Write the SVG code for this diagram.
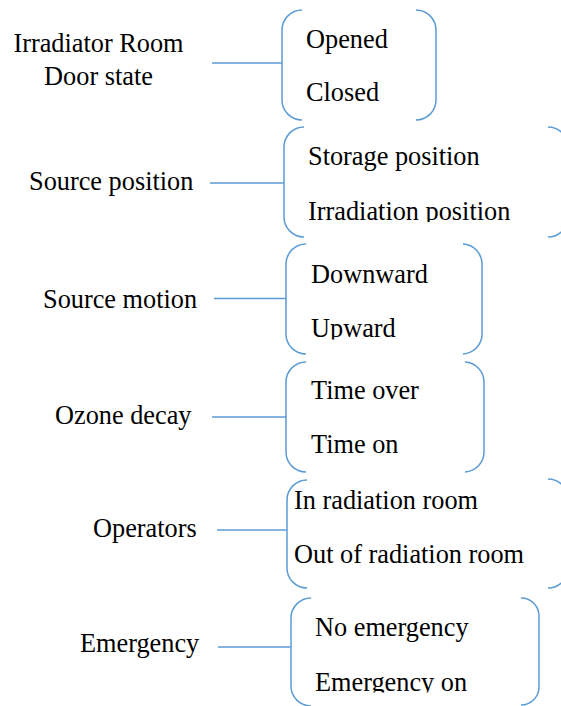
<svg xmlns="http://www.w3.org/2000/svg" width="561" height="706" viewBox="0 0 561 706">
<style>
text{font-family:"Liberation Serif","Times New Roman",serif;font-size:26.3px;fill:#000}
.br{fill:none;stroke:#5B9BD5;stroke-width:1.5}
.cn{fill:none;stroke:#5B9BD5;stroke-width:1.3}
</style>
<defs>
<clipPath id="c2"><rect x="280" y="120" width="281" height="102"/></clipPath>
<clipPath id="c3"><rect x="280" y="240" width="281" height="99.5"/></clipPath>
<clipPath id="c6"><rect x="280" y="595" width="281" height="97.5"/></clipPath>
</defs>
<rect width="561" height="706" fill="#fff"/>
<g id="connectors">
<line class="cn" x1="212" y1="63" x2="282" y2="63"/>
<line class="cn" x1="210" y1="183" x2="284" y2="183"/>
<line class="cn" x1="214" y1="298.5" x2="286" y2="298.5"/>
<line class="cn" x1="212" y1="417" x2="286" y2="417"/>
<line class="cn" x1="217" y1="530" x2="287" y2="530"/>
<line class="cn" x1="218" y1="647" x2="291" y2="647"/>
</g>
<g id="label-door">
<text x="98.5" y="52" text-anchor="middle">Irradiator Room</text>
<text x="98.5" y="85" text-anchor="middle">Door state</text>
</g>
<g id="label-source-position"><text x="29" y="190">Source position</text></g>
<g id="label-source-motion"><text x="43" y="308">Source motion</text></g>
<g id="label-ozone"><text x="55" y="424">Ozone decay</text></g>
<g id="label-operators"><text x="93" y="537">Operators</text></g>
<g id="label-emergency"><text x="80" y="652">Emergency</text></g>
<g id="box-door">
<path class="br" d="M302,10 A20,20 0 0 0 282,30 L282,100 A20,20 0 0 0 302,120"/>
<path class="br" d="M416,10 A20,20 0 0 1 436,30 L436,100 A20,20 0 0 1 416,120"/>
<text x="306" y="48">Opened</text>
<text x="306" y="101">Closed</text>
</g>
<g id="box-source-position">
<path class="br" d="M304,127 A20,20 0 0 0 284,147 L284,217 A20,20 0 0 0 304,237"/>
<path class="br" d="M548,127 A20,20 0 0 1 568,147 L568,217 A20,20 0 0 1 548,237"/>
<g clip-path="url(#c2)">
<text x="308" y="165">Storage position</text>
<text x="308" y="220">Irradiation position</text>
</g>
</g>
<g id="box-source-motion">
<path class="br" d="M306,244 A20,20 0 0 0 286,264 L286,334 A20,20 0 0 0 306,354"/>
<path class="br" d="M463,244 A20,20 0 0 1 482,264 L482,334 A20,20 0 0 1 463,354"/>
<g clip-path="url(#c3)">
<text x="311" y="283">Downward</text>
<text x="311" y="337">Upward</text>
</g>
</g>
<g id="box-ozone">
<path class="br" d="M306,362 A20,20 0 0 0 286,382 L286,452 A20,20 0 0 0 306,472"/>
<path class="br" d="M465,362 A20,20 0 0 1 484,382 L484,452 A20,20 0 0 1 465,472"/>
<text x="311" y="399">Time over</text>
<text x="311" y="453">Time on</text>
</g>
<g id="box-operators">
<path class="br" d="M307,480 A20,20 0 0 0 287,500 L287,568 A20,20 0 0 0 307,588"/>
<path class="br" d="M548,479 A20,20 0 0 1 568,499 L568,568 A20,20 0 0 1 548,588"/>
<text x="294" y="509">In radiation room</text>
<text x="294" y="563">Out of radiation room</text>
</g>
<g id="box-emergency">
<path class="br" d="M311,598 A20,20 0 0 0 291,618 L291,686 A20,20 0 0 0 311,706"/>
<path class="br" d="M521,598 A18,18 0 0 1 539,616 L539,687 A18,18 0 0 1 521,705"/>
<g clip-path="url(#c6)">
<text x="315" y="636">No emergency</text>
<text x="315" y="691">Emergency on</text>
</g>
</g>
</svg>
